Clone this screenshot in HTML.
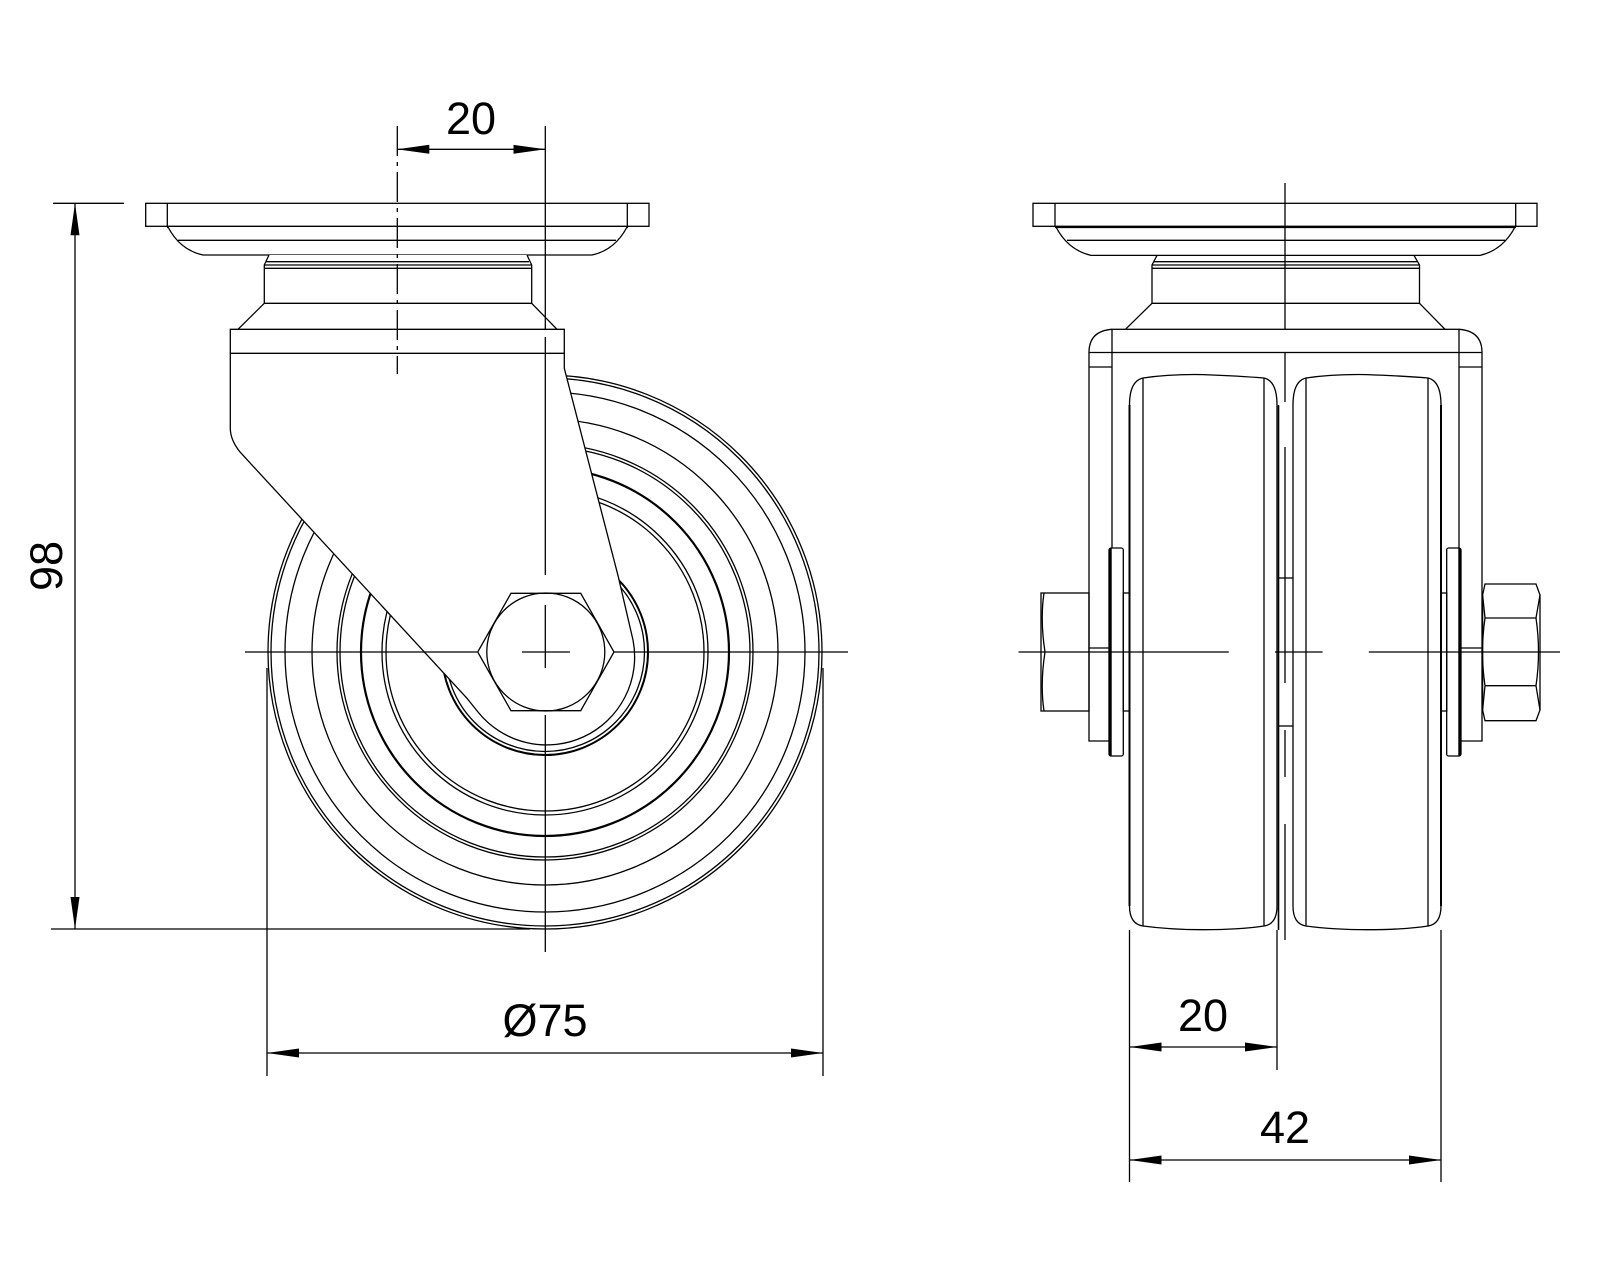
<!DOCTYPE html>
<html><head><meta charset="utf-8"><style>html,body{margin:0;padding:0;background:#fff}svg{display:block}</style></head>
<body>
<svg width="1600" height="1280" viewBox="0 0 1600 1280" xmlns="http://www.w3.org/2000/svg">
<defs>
<marker id="a" viewBox="0 0 32 10" refX="32" refY="5" markerWidth="32" markerHeight="10" markerUnits="userSpaceOnUse" orient="auto-start-reverse"><path d="M32,5 L0,0.5 L0,9.5 Z" fill="#000"/></marker>
</defs>
<g fill="none" stroke="#000" stroke-width="1.3">
<g>
<circle cx="545" cy="652" r="277"/>
<circle cx="545" cy="652" r="274"/>
<circle cx="545" cy="652" r="260"/>
<circle cx="545" cy="652" r="233"/>
<circle cx="545" cy="652" r="208"/>
<circle cx="545" cy="652" r="205"/>
<circle cx="545" cy="652" r="184" stroke-width="2.2"/>
<circle cx="545" cy="652" r="163"/>
<circle cx="545" cy="652" r="159"/>
<circle cx="545" cy="652" r="103" stroke-width="2"/>
<circle cx="545" cy="652" r="99.5"/>
</g>
<rect x="145.7" y="203.3" width="503.3" height="23" fill="#fff"/>
<line x1="167.3" y1="203.3" x2="167.3" y2="226.3"/>
<line x1="627.3" y1="203.3" x2="627.3" y2="226.3"/>
<line x1="167" y1="227" x2="628" y2="227" stroke-width="2.2"/>
<path d="M168,227 Q180,250 203,255 H592 Q615,250 627,227" fill="#fff"/>
<line x1="178" y1="240.3" x2="616" y2="240.3"/>
<path d="M269,255 L264.3,265 V303.3 H531.7 V265 L527,255" fill="#fff"/>
<line x1="266" y1="261.7" x2="529" y2="261.7"/>
<line x1="264.3" y1="265" x2="531.7" y2="265"/>
<line x1="264.3" y1="268.3" x2="531.7" y2="268.3"/>
<path d="M264.3,303.3 L238,329.3 M531.7,303.3 L557,329.3"/>
<path d="M230.3,329.3 H564.3 V368.3 L618.3,576.7 L633,640 A88,88 0 0 1 478,712 L467,698.3 L240,452 Q230.3,440 230.3,428.3 Z" fill="#fff"/>
<line x1="230.3" y1="353.3" x2="564.3" y2="353.3"/>
<polygon points="477.7,652 511,593.3 580.7,593.3 614,652 580.7,710.7 511,710.7" fill="#fff"/>
<circle cx="545.8" cy="652" r="59"/>
<line x1="397.3" y1="126" x2="397.3" y2="374" stroke-dasharray="30,6,4,6"/>
<line x1="545.3" y1="126" x2="545.3" y2="329"/>
<line x1="545.3" y1="337" x2="545.3" y2="575"/>
<line x1="545.3" y1="605" x2="545.3" y2="668"/>
<line x1="545.3" y1="715" x2="545.3" y2="952"/>
<line x1="245" y1="652" x2="477" y2="652"/>
<line x1="522" y1="652" x2="570" y2="652"/>
<line x1="614" y1="652" x2="848" y2="652"/>
<line x1="53" y1="203.3" x2="124" y2="203.3"/>
<line x1="51" y1="929" x2="530" y2="929"/>
<line x1="75" y1="203.3" x2="75" y2="929" marker-start="url(#a)" marker-end="url(#a)"/>
<line x1="397.3" y1="149.3" x2="545.3" y2="149.3" marker-start="url(#a)" marker-end="url(#a)"/>
<line x1="267" y1="668" x2="267" y2="1076"/>
<line x1="823" y1="668" x2="823" y2="1076"/>
<line x1="267" y1="1053" x2="823" y2="1053" marker-start="url(#a)" marker-end="url(#a)"/>

<rect x="1033" y="203.3" width="504" height="23" fill="#fff"/>
<line x1="1055" y1="203.3" x2="1055" y2="226.3"/>
<line x1="1515.7" y1="203.3" x2="1515.7" y2="226.3"/>
<line x1="1055" y1="227" x2="1516" y2="227" stroke-width="2.2"/>
<path d="M1056,227 Q1068,250 1091,255.4 H1480 Q1503,250 1515,227"/>
<line x1="1067" y1="240.3" x2="1505" y2="240.3"/>
<path d="M1157,255.4 L1152,265 V303.3 H1419.5 V265 L1414,255.4"/>
<line x1="1154" y1="261.7" x2="1417" y2="261.7"/>
<line x1="1152" y1="265" x2="1419.5" y2="265"/>
<line x1="1152" y1="268.3" x2="1419.5" y2="268.3"/>
<path d="M1152,303.3 L1125.5,329.3 M1419.5,303.3 L1445,329.3"/>
<rect x="1112" y="329.3" width="347" height="23.2"/>
<path d="M1112,329.3 Q1089,331 1089,352.5 V741 H1109 M1459,329.3 Q1482,331 1482,352.5 V741 H1461"/>
<line x1="1089" y1="352.5" x2="1112" y2="352.5"/>
<line x1="1459" y1="352.5" x2="1482" y2="352.5"/>
<line x1="1089" y1="367" x2="1112" y2="367"/>
<line x1="1459" y1="367" x2="1482" y2="367"/>
<line x1="1112" y1="352.5" x2="1112" y2="548"/>
<line x1="1459" y1="352.5" x2="1459" y2="548"/>
<line x1="1089" y1="648" x2="1109" y2="648"/>
<line x1="1461" y1="648" x2="1482" y2="648"/>
<path d="M1129.5,906 V405 Q1129.5,381 1143,378 Q1170,374 1203,374.6 Q1240,376 1264,378 Q1277,381 1277,405 V906 Q1277,924 1264,926 Q1240,929.7 1203,929.7 Q1170,929.7 1143,926 Q1129.5,924 1129.5,906 Z"/>
<path d="M1293,906 V405 Q1293,381 1306,378 Q1333,374 1367,374.6 Q1404,376 1428,378 Q1441,381 1441,405 V906 Q1441,924 1428,926 Q1404,929.7 1367,929.7 Q1333,929.7 1306,926 Q1293,924 1293,906 Z"/>
<line x1="1143" y1="378" x2="1143" y2="926"/>
<line x1="1264" y1="378" x2="1264" y2="926"/>
<line x1="1306" y1="378" x2="1306" y2="926"/>
<line x1="1428" y1="378" x2="1428" y2="926"/>
<line x1="1129.5" y1="405" x2="1129.5" y2="906" stroke-width="2"/>
<line x1="1441" y1="405" x2="1441" y2="906" stroke-width="2"/>
<line x1="1278.5" y1="405" x2="1278.5" y2="930" stroke-width="1.6"/>
<line x1="1278.5" y1="578" x2="1293" y2="578"/>
<line x1="1278.5" y1="726" x2="1293" y2="726"/>
<rect x="1109" y="548" width="14.3" height="208" rx="2"/>
<line x1="1110.5" y1="548" x2="1110.5" y2="756" stroke-width="2.4"/>
<rect x="1446.7" y="548" width="14.3" height="208" rx="2"/>
<line x1="1459.5" y1="548" x2="1459.5" y2="756" stroke-width="2.4"/>
<rect x="1123.3" y="593" width="6.2" height="118"/>
<rect x="1441" y="593" width="5.7" height="118"/>
<rect x="1041" y="593" width="48" height="118"/>
<path d="M1044,593 Q1040,620 1045,652 Q1040,684 1044,711"/>
<path d="M1485,584 H1536 L1540,595 V710 L1536,720.7 H1485 L1482.6,710 V595 Z"/>
<path d="M1485,618 H1536 M1485,685.7 H1536"/>
<path d="M1482.6,595 L1485,618 M1540,595 L1536,618 M1482.6,710 L1485,685.7 M1540,710 L1536,685.7"/>
<path d="M1485,618 Q1480,652 1485,685.7 M1536,618 Q1541,652 1536,685.7"/>
<line x1="1285" y1="183" x2="1285" y2="329"/>
<line x1="1285" y1="352.5" x2="1285" y2="402"/>
<line x1="1285" y1="447" x2="1285" y2="683"/>
<line x1="1285" y1="730" x2="1285" y2="777"/>
<line x1="1285" y1="824" x2="1285" y2="940"/>
<line x1="1018.5" y1="652" x2="1228.8" y2="652"/>
<line x1="1275" y1="652" x2="1322.6" y2="652"/>
<line x1="1368.8" y1="652" x2="1560" y2="652"/>
<line x1="1129.5" y1="930" x2="1129.5" y2="1182"/>
<line x1="1277" y1="930" x2="1277" y2="1070"/>
<line x1="1441" y1="930" x2="1441" y2="1182"/>
<line x1="1129.5" y1="1047" x2="1277" y2="1047" marker-start="url(#a)" marker-end="url(#a)"/>
<line x1="1129.5" y1="1160" x2="1441" y2="1160" marker-start="url(#a)" marker-end="url(#a)"/>
</g>
<g font-family="Liberation Sans, sans-serif" font-size="45" fill="#000" text-anchor="middle">
<text x="471" y="134">20</text>
<text x="545" y="1036">Ø75</text>
<text x="1203" y="1031">20</text>
<text x="1285" y="1143">42</text>
<text transform="translate(62,566) rotate(-90)">98</text>
</g>
</svg>
</body></html>
